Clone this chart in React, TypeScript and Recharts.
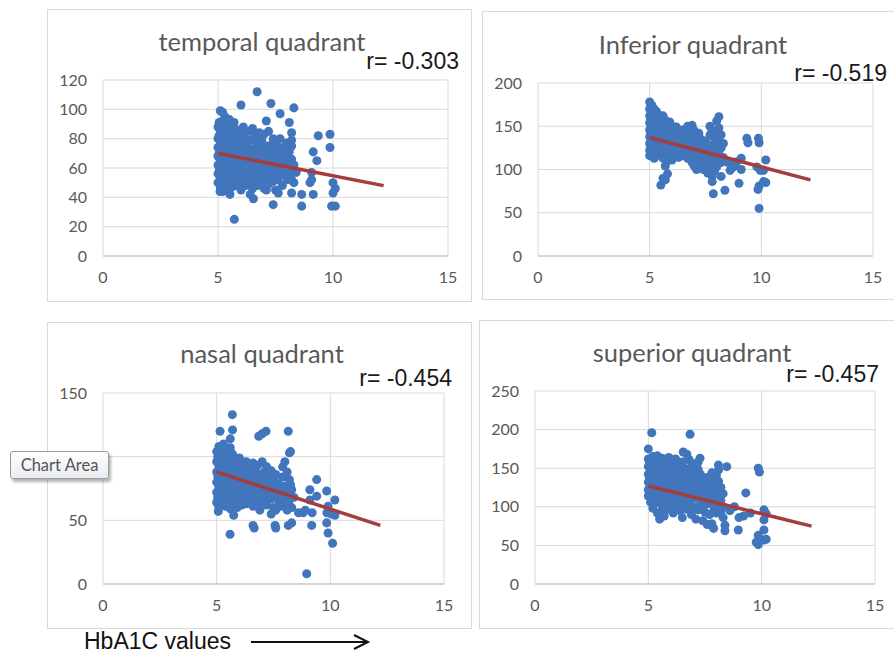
import React from 'react'
import {
  ScatterChart, Scatter, XAxis, YAxis, ZAxis, CartesianGrid,
} from 'recharts'

type Pt = [number, number]

// HbA1C vs thickness (cores are dense, outliers listed after)
const temporalPoints: Pt[] = [
  [5.0, 88], [5.0, 80], [5.0, 74], [5.0, 68], [5.0, 62], [5.0, 56], [5.0, 50],
  [5.1, 84], [5.1, 77], [5.1, 71], [5.1, 65], [5.1, 59], [5.1, 53], [5.1, 47],
  [5.2, 92], [5.2, 86], [5.2, 79], [5.2, 73], [5.2, 67], [5.2, 61], [5.2, 55], [5.2, 49], [5.2, 44],
  [5.3, 95], [5.3, 82], [5.3, 76], [5.3, 70], [5.3, 63], [5.3, 57], [5.3, 51],
  [5.4, 89], [5.4, 84], [5.4, 66], [5.4, 60], [5.4, 54], [5.4, 46],
  [5.5, 93], [5.5, 80], [5.5, 73], [5.5, 68], [5.5, 58], [5.5, 50],
  [5.6, 87], [5.6, 77], [5.6, 63], [5.6, 55], [5.6, 47],
  [5.7, 91], [5.7, 83], [5.7, 70], [5.7, 60], [5.7, 52],
  [5.8, 86], [5.8, 75], [5.8, 66], [5.8, 57], [5.8, 48],
  [5.9, 80], [5.9, 71], [5.9, 62], [5.9, 53],
  [6.0, 84], [6.0, 76], [6.0, 67], [6.0, 58], [6.0, 50], [6.0, 45],
  [6.1, 88], [6.1, 72], [6.1, 63], [6.1, 54], [6.2, 80], [6.2, 68], [6.2, 59], [6.2, 48],
  [6.3, 85], [6.3, 75], [6.3, 64], [6.3, 55], [6.4, 79], [6.4, 70], [6.4, 60], [6.4, 51],
  [6.5, 87], [6.5, 73], [6.5, 66], [6.5, 56], [6.5, 46],
  [6.6, 82], [6.6, 62], [6.6, 52], [6.7, 77], [6.7, 69], [6.7, 58], [6.7, 48],
  [6.8, 84], [6.8, 72], [6.8, 64], [6.8, 54], [6.9, 79], [6.9, 60], [6.9, 50],
  [7.0, 83], [7.0, 68], [7.0, 57], [7.0, 46], [7.1, 75], [7.1, 63], [7.1, 53],
  [7.2, 85], [7.2, 70], [7.2, 59], [7.2, 49], [7.3, 66], [7.3, 55],
  [7.4, 80], [7.4, 72], [7.4, 61], [7.4, 51], [7.5, 76], [7.5, 64], [7.5, 45],
  [7.6, 70], [7.6, 58], [7.6, 52], [7.7, 80], [7.7, 66], [7.7, 55],
  [7.8, 74], [7.8, 62], [7.8, 48], [7.9, 69], [7.9, 57], [8.0, 77], [8.0, 64], [8.0, 52],
  [8.1, 71], [8.1, 60], [8.2, 75], [8.2, 66], [8.2, 56], [8.3, 62], [8.3, 50], [8.4, 57],
  [5.05, 91], [5.05, 82], [5.05, 70], [5.05, 58], [5.15, 88], [5.15, 75], [5.15, 63], [5.15, 51],
  [5.25, 83], [5.25, 68], [5.25, 53], [5.35, 87], [5.35, 72], [5.35, 60], [5.45, 78], [5.45, 63],
  [5.45, 52], [5.55, 85], [5.55, 61], [5.65, 73], [5.65, 67], [5.75, 78], [5.75, 56], [5.85, 70],
  [5.85, 61], [5.95, 75], [5.95, 57], [6.05, 63], [6.15, 79], [6.15, 67], [6.25, 74], [6.25, 63],
  [6.35, 69], [6.45, 65], [6.55, 80], [6.55, 61], [6.65, 71], [6.75, 63], [6.85, 77], [6.95, 68],
  [7.05, 62], [7.15, 70], [7.25, 64], [7.35, 76], [7.45, 57], [7.55, 68], [7.65, 62], [7.85, 67],
  [7.95, 73], [8.05, 58],
  // outliers
  [6.7, 112], [6.0, 103], [7.3, 104], [8.3, 101], [7.7, 97], [5.2, 98], [5.1, 99],
  [8.1, 91], [7.1, 92], [9.36, 82], [9.87, 83], [9.87, 74], [9.14, 71], [9.3, 65],
  [8.2, 84], [8.2, 79], [10.0, 50], [10.1, 46], [10.0, 43], [9.94, 34], [10.1, 34],
  [8.64, 34], [9.14, 42], [8.64, 42], [9.07, 52], [9.07, 57], [9.0, 50],
  [7.4, 35], [5.71, 25], [5.09, 44], [5.52, 42], [6.54, 39], [6.4, 42],
  [7.62, 43], [8.2, 43], [8.2, 52], [8.2, 58], [7.1, 45],
]

const inferiorPoints: Pt[] = [
  [5.0, 178], [5.0, 170], [5.0, 162], [5.0, 154], [5.0, 146], [5.0, 138], [5.0, 130], [5.0, 122], [5.0, 116],
  [5.1, 174], [5.1, 166], [5.1, 158], [5.1, 150], [5.1, 142], [5.1, 134], [5.1, 126], [5.1, 119],
  [5.2, 170], [5.2, 161], [5.2, 153], [5.2, 145], [5.2, 137], [5.2, 129], [5.2, 121], [5.2, 113],
  [5.3, 167], [5.3, 157], [5.3, 148], [5.3, 139], [5.3, 131], [5.3, 123],
  [5.4, 163], [5.4, 152], [5.4, 143], [5.4, 134], [5.4, 126], [5.4, 117],
  [5.5, 159], [5.5, 148], [5.5, 138], [5.5, 129], [5.5, 120],
  [5.6, 162], [5.6, 153], [5.6, 143], [5.6, 133], [5.6, 124], [5.6, 113],
  [5.7, 157], [5.7, 147], [5.7, 137], [5.7, 127], [5.7, 118], [5.7, 104],
  [5.8, 151], [5.8, 141], [5.8, 131], [5.8, 121], [5.8, 110],
  [5.9, 155], [5.9, 145], [5.9, 135], [5.9, 125],
  [6.0, 150], [6.0, 139], [6.0, 129], [6.0, 119], [6.0, 111],
  [6.1, 146], [6.1, 136], [6.1, 126], [6.1, 116],
  [6.2, 149], [6.2, 140], [6.2, 130], [6.2, 120], [6.3, 145], [6.3, 134], [6.3, 124], [6.3, 114],
  [6.4, 141], [6.4, 131], [6.4, 121], [6.5, 146], [6.5, 136], [6.5, 126], [6.5, 116],
  [6.6, 142], [6.6, 130], [6.6, 119], [6.7, 150], [6.7, 138], [6.7, 125], [6.7, 113],
  [6.8, 146], [6.8, 133], [6.8, 121], [6.9, 151], [6.9, 140], [6.9, 128], [6.9, 108],
  [7.0, 145], [7.0, 134], [7.0, 118], [7.0, 104], [7.1, 138], [7.1, 126], [7.1, 112],
  [7.2, 142], [7.2, 130], [7.2, 117], [7.2, 102], [7.3, 135], [7.3, 122], [7.3, 109],
  [7.4, 128], [7.4, 114], [7.4, 100], [7.5, 133], [7.5, 119], [7.5, 106],
  [7.6, 124], [7.6, 111], [7.6, 96], [7.7, 150], [7.7, 140], [7.7, 116], [7.7, 103],
  [7.8, 145], [7.8, 128], [7.8, 108], [7.8, 92], [7.9, 136], [7.9, 121], [7.9, 98],
  [8.0, 156], [8.0, 142], [8.0, 126], [8.0, 112], [8.0, 103],
  [8.1, 161], [8.1, 148], [8.1, 133], [8.1, 118], [8.2, 140], [8.2, 125], [8.2, 108],
  [8.3, 130], [8.3, 114],
  [5.05, 172], [5.05, 158], [5.05, 143], [5.05, 127], [5.15, 165], [5.15, 147], [5.15, 131],
  [5.25, 156], [5.25, 141], [5.25, 126], [5.35, 152], [5.35, 135], [5.45, 147], [5.45, 130],
  [5.55, 143], [5.55, 125], [5.65, 148], [5.65, 129], [5.75, 142], [5.75, 123], [5.85, 137],
  [5.95, 140], [5.95, 120], [6.05, 134], [6.15, 141], [6.15, 122], [6.25, 135], [6.35, 129],
  [6.45, 137], [6.55, 121], [6.65, 135], [6.75, 130], [6.85, 126], [6.95, 134], [7.05, 129],
  [7.15, 120], [7.25, 125], [7.35, 117], [7.45, 122], [7.55, 113], [7.65, 118], [7.85, 115],
  [8.05, 120], [8.15, 128],
  // outliers
  [5.5, 82], [5.6, 90], [5.8, 95], [5.7, 88], [7.85, 72], [8.37, 76], [7.8, 86], [8.2, 92],
  [8.6, 99], [8.5, 108], [8.8, 104], [8.9, 109], [9.0, 84], [9.1, 100], [9.1, 113],
  [9.35, 136], [9.4, 131], [9.87, 136], [9.9, 131], [9.8, 103], [9.95, 99],
  [10.2, 111], [10.1, 99], [10.1, 86], [10.2, 85], [9.9, 81], [9.85, 77], [9.9, 55],
  [8.7, 102], [7.1, 100],
]

const nasalPoints: Pt[] = [
  [5.0, 104], [5.0, 96], [5.0, 88], [5.0, 80], [5.0, 72], [5.0, 64],
  [5.1, 108], [5.1, 100], [5.1, 92], [5.1, 84], [5.1, 76], [5.1, 68], [5.1, 60],
  [5.2, 103], [5.2, 95], [5.2, 87], [5.2, 79], [5.2, 71], [5.2, 63],
  [5.3, 110], [5.3, 98], [5.3, 90], [5.3, 82], [5.3, 74], [5.3, 66],
  [5.4, 105], [5.4, 93], [5.4, 85], [5.4, 77], [5.4, 69], [5.4, 61],
  [5.5, 100], [5.5, 88], [5.5, 80], [5.5, 72], [5.5, 64],
  [5.6, 107], [5.6, 95], [5.6, 83], [5.6, 75], [5.6, 67], [5.6, 59],
  [5.7, 102], [5.7, 90], [5.7, 78], [5.7, 70], [5.7, 62],
  [5.8, 97], [5.8, 85], [5.8, 73], [5.8, 65], [5.9, 92], [5.9, 81], [5.9, 68], [5.9, 60],
  [6.0, 99], [6.0, 87], [6.0, 76], [6.0, 64], [6.1, 94], [6.1, 83], [6.1, 71], [6.1, 62],
  [6.2, 90], [6.2, 79], [6.2, 67], [6.3, 96], [6.3, 85], [6.3, 74], [6.3, 63],
  [6.4, 91], [6.4, 80], [6.4, 69], [6.5, 87], [6.5, 76], [6.5, 65],
  [6.6, 95], [6.6, 83], [6.6, 72], [6.6, 61], [6.7, 89], [6.7, 78], [6.7, 67],
  [6.8, 93], [6.8, 81], [6.8, 70], [6.9, 86], [6.9, 75], [6.9, 64],
  [7.0, 96], [7.0, 82], [7.0, 71], [7.1, 88], [7.1, 77], [7.1, 66], [7.2, 92], [7.2, 80], [7.2, 62],
  [7.3, 85], [7.3, 73], [7.4, 89], [7.4, 78], [7.4, 67], [7.5, 82], [7.5, 70], [7.5, 60],
  [7.6, 86], [7.6, 75], [7.7, 79], [7.7, 66], [7.8, 72], [7.8, 61],
  [7.9, 84], [7.9, 68], [8.0, 77], [8.0, 63], [8.1, 88], [8.1, 71], [8.1, 58],
  [8.2, 82], [8.2, 66], [8.3, 74], [8.3, 60], [8.4, 68],
  [5.05, 100], [5.05, 84], [5.05, 68], [5.15, 96], [5.15, 80], [5.15, 72], [5.25, 99], [5.25, 83],
  [5.25, 67], [5.35, 94], [5.35, 78], [5.45, 89], [5.45, 73], [5.55, 92], [5.55, 76], [5.55, 68],
  [5.65, 86], [5.65, 71], [5.75, 95], [5.75, 82], [5.75, 66], [5.85, 89], [5.85, 77], [5.95, 85],
  [5.95, 72], [6.05, 81], [6.05, 68], [6.15, 88], [6.15, 76], [6.25, 84], [6.25, 72], [6.35, 79],
  [6.45, 84], [6.45, 74], [6.55, 70], [6.65, 80], [6.75, 74], [6.85, 86], [6.95, 79], [7.05, 75],
  [7.15, 83], [7.25, 69], [7.35, 79], [7.45, 72], [7.55, 77], [7.65, 70], [7.85, 76], [8.05, 70],
  // outliers
  [5.69, 133], [5.15, 120], [5.7, 121], [5.6, 114], [6.85, 116], [7.0, 118], [7.17, 120],
  [8.15, 120], [8.2, 103], [8.25, 104], [8.0, 96], [7.9, 92], [9.4, 82], [9.1, 74],
  [9.84, 73], [9.4, 69], [10.2, 66], [9.9, 61], [9.1, 66], [8.9, 58], [8.25, 78], [8.1, 76],
  [9.85, 56], [10.05, 55], [10.2, 54], [9.2, 56], [8.6, 56], [8.8, 56], [8.3, 48], [8.15, 46],
  [9.18, 46], [9.84, 48], [9.9, 40], [10.1, 32], [7.57, 46], [7.6, 44], [6.6, 46], [6.65, 44],
  [5.59, 39], [5.07, 57], [5.75, 54], [8.96, 8], [7.6, 58], [7.4, 55], [6.9, 58],
]

const superiorPoints: Pt[] = [
  [5.0, 162], [5.0, 152], [5.0, 142], [5.0, 132], [5.0, 122], [5.0, 114],
  [5.1, 158], [5.1, 147], [5.1, 137], [5.1, 127], [5.1, 117], [5.1, 106],
  [5.2, 165], [5.2, 153], [5.2, 143], [5.2, 133], [5.2, 123], [5.2, 112], [5.2, 98],
  [5.3, 160], [5.3, 148], [5.3, 138], [5.3, 128], [5.3, 118], [5.3, 108],
  [5.4, 166], [5.4, 155], [5.4, 144], [5.4, 134], [5.4, 124], [5.4, 113], [5.4, 92],
  [5.5, 150], [5.5, 139], [5.5, 129], [5.5, 119], [5.5, 84],
  [5.6, 163], [5.6, 145], [5.6, 135], [5.6, 125], [5.6, 110], [5.6, 95],
  [5.7, 157], [5.7, 140], [5.7, 130], [5.7, 118], [5.7, 102], [5.7, 88],
  [5.8, 150], [5.8, 136], [5.8, 124], [5.8, 112],
  [5.9, 164], [5.9, 144], [5.9, 131], [5.9, 119], [5.9, 97],
  [6.0, 158], [6.0, 139], [6.0, 127], [6.0, 114], [6.0, 103],
  [6.1, 150], [6.1, 133], [6.1, 121], [6.1, 92],
  [6.2, 162], [6.2, 144], [6.2, 128], [6.2, 115], [6.2, 100],
  [6.3, 154], [6.3, 137], [6.3, 123], [6.3, 108], [6.4, 148], [6.4, 131], [6.4, 118], [6.4, 95],
  [6.5, 158], [6.5, 140], [6.5, 125], [6.5, 112], [6.5, 86],
  [6.6, 150], [6.6, 134], [6.6, 120], [6.6, 104],
  [6.7, 168], [6.7, 143], [6.7, 128], [6.7, 115], [6.7, 97],
  [6.8, 161], [6.8, 137], [6.8, 122], [6.8, 108], [6.9, 152], [6.9, 131], [6.9, 117], [6.9, 90],
  [7.0, 146], [7.0, 125], [7.0, 111], [7.0, 100], [7.1, 156], [7.1, 138], [7.1, 120], [7.1, 84],
  [7.2, 148], [7.2, 130], [7.2, 114], [7.2, 96], [7.3, 142], [7.3, 124], [7.3, 107],
  [7.4, 135], [7.4, 118], [7.4, 100], [7.4, 82], [7.5, 128], [7.5, 112], [7.5, 93],
  [7.6, 138], [7.6, 121], [7.6, 104], [7.7, 131], [7.7, 114], [7.7, 90],
  [7.8, 144], [7.8, 124], [7.8, 107], [7.8, 78], [7.9, 135], [7.9, 117], [7.9, 98],
  [8.0, 141], [8.0, 127], [8.0, 110], [8.0, 92], [8.1, 133], [8.1, 119], [8.1, 102],
  [8.2, 125], [8.2, 108], [8.2, 94], [8.3, 117], [8.3, 100],
  [5.05, 157], [5.05, 137], [5.05, 118], [5.15, 152], [5.15, 132], [5.15, 112], [5.25, 148],
  [5.25, 128], [5.25, 104], [5.35, 153], [5.35, 133], [5.35, 113], [5.45, 140], [5.45, 120],
  [5.55, 156], [5.55, 132], [5.55, 104], [5.65, 140], [5.65, 117], [5.75, 148], [5.75, 124],
  [5.85, 143], [5.85, 118], [5.95, 137], [5.95, 108], [6.05, 146], [6.05, 120], [6.15, 139],
  [6.15, 110], [6.25, 134], [6.35, 145], [6.35, 116], [6.45, 125], [6.55, 132], [6.55, 104],
  [6.65, 141], [6.75, 122], [6.85, 129], [6.95, 124], [7.05, 135], [7.15, 128], [7.25, 121],
  [7.35, 113], [7.45, 126], [7.55, 120], [7.65, 112], [7.75, 125], [7.85, 116], [8.05, 118],
  [8.15, 111],
  // outliers
  [5.15, 196], [6.84, 194], [5.0, 175], [6.54, 171], [7.28, 163], [7.2, 158], [8.09, 154],
  [8.1, 148], [8.46, 152], [9.3, 118], [9.85, 150], [9.9, 145], [8.38, 76], [8.97, 70],
  [8.38, 69], [7.88, 72], [7.73, 77], [7.6, 77], [8.3, 86], [9.2, 88], [9.0, 86],
  [10.1, 96], [10.2, 91], [10.1, 83], [10.1, 70], [9.85, 63], [10.1, 57], [10.2, 58],
  [9.85, 51], [9.76, 54], [8.6, 95], [8.8, 100], [9.5, 92],
]

// linear trendline end points [x, y]
const temporalTrend: Pt[] = [[5, 70], [12.2, 48]]
const inferiorTrend: Pt[] = [[5, 137], [12.2, 88]]
const nasalTrend: Pt[] = [[5, 88], [12.2, 46]]
const superiorTrend: Pt[] = [[5, 127], [12.2, 75]]

const xTicks = [0, 5, 10, 15]
const temporalTicks = [0, 20, 40, 60, 80, 100, 120]
const inferiorTicks = [0, 50, 100, 150, 200]
const nasalTicks = [0, 50, 100, 150]
const superiorTicks = [0, 50, 100, 150, 200, 250]

const DOT = '#4276bc'
const TREND = '#a33e3d'
const GRID = '#d9d9d9'
const TICK = { fontSize: 16, fill: '#595959', fontFamily: 'Lato, sans-serif' }

type PanelProps = {
  title: string
  r: string
  points: Pt[]
  trend: Pt[]
  yTicks: number[]
  hiddenTick?: number
  box: { x: number; y: number; w: number; h: number }
  plot: { l: number; t: number; r: number; b: number }
  titleAt: [number, number]
  rAt: [number, number]
}

const Y_W = 60
const X_H = 40

function Panel({ title, r, points, trend, yTicks, hiddenTick, box, plot, titleAt, rAt }: PanelProps) {
  const data = points.map(([x, y]) => ({ x, y }))
  const trendData = trend.map(([x, y]) => ({ x, y }))
  const w = plot.r - plot.l + Y_W + 10
  const h = plot.b - plot.t + 10 + X_H
  return (
    <>
      <div style={{
        position: 'absolute', left: box.x, top: box.y, width: box.w, height: box.h,
        border: '1px solid #d9d9d9', boxSizing: 'border-box', background: '#fff',
      }} />
      <div style={{ position: 'absolute', left: plot.l - Y_W, top: plot.t - 10 }}>
        <ScatterChart width={w} height={h} margin={{ top: 10, right: 10, left: 0, bottom: 0 }}>
          <CartesianGrid stroke={GRID} />
          <XAxis
            type="number" dataKey="x" domain={[0, 15]} ticks={xTicks} height={X_H}
            tick={TICK} tickLine={false} tickMargin={10} stroke="#bfbfbf"
          />
          <YAxis
            type="number" dataKey="y" domain={[yTicks[0], yTicks[yTicks.length - 1]]}
            ticks={yTicks} width={Y_W} tick={TICK} tickLine={false} axisLine={false} tickMargin={10}
            tickFormatter={(v: number) => (v === hiddenTick ? '' : String(v))}
          />
          <ZAxis range={[80, 80]} />
          <Scatter data={data} fill={DOT} isAnimationActive={false} />
          <Scatter
            data={trendData} line={{ stroke: TREND, strokeWidth: 3.5 }}
            shape={() => <g />} isAnimationActive={false}
          />
        </ScatterChart>
      </div>
      <div style={{
        position: 'absolute', left: titleAt[0], top: titleAt[1], transform: 'translate(-50%, -50%)',
        whiteSpace: 'nowrap', fontFamily: 'Lato, sans-serif', fontSize: 25.5, color: '#595959',
      }}>{title}</div>
      <div style={{
        position: 'absolute', left: rAt[0], top: rAt[1], transform: 'translate(-100%, -50%)',
        whiteSpace: 'nowrap', fontFamily: '"Liberation Sans", Arial, sans-serif', fontSize: 23, color: '#1a1a1a',
      }}>{r}</div>
    </>
  )
}

export default function App() {
  return (
    <div style={{ position: 'absolute', left: 0, top: 0, width: 894, height: 652, background: '#fff', overflow: 'hidden' }}>
      <Panel
        title="temporal quadrant" r="r= -0.303" points={temporalPoints} trend={temporalTrend}
        yTicks={temporalTicks}
        box={{ x: 47, y: 9, w: 425, h: 293 }}
        plot={{ l: 103, t: 80, r: 448, b: 256 }}
        titleAt={[262, 41]} rAt={[459, 61]}
      />
      <Panel
        title="Inferior quadrant" r="r= -0.519" points={inferiorPoints} trend={inferiorTrend}
        yTicks={inferiorTicks}
        box={{ x: 482, y: 11, w: 420, h: 289 }}
        plot={{ l: 538, t: 83, r: 873, b: 256 }}
        titleAt={[693, 44]} rAt={[887, 73]}
      />
      <Panel
        title="nasal quadrant" r="r= -0.454" points={nasalPoints} trend={nasalTrend}
        yTicks={nasalTicks} hiddenTick={100}
        box={{ x: 47, y: 322, w: 425, h: 307 }}
        plot={{ l: 103, t: 393, r: 444, b: 584 }}
        titleAt={[262, 353]} rAt={[452, 378]}
      />
      <Panel
        title="superior quadrant" r="r= -0.457" points={superiorPoints} trend={superiorTrend}
        yTicks={superiorTicks}
        box={{ x: 479, y: 320, w: 420, h: 309 }}
        plot={{ l: 535, t: 391, r: 875, b: 584 }}
        titleAt={[692, 352]} rAt={[879, 374]}
      />

      {/* Excel hover tag, it hides the nasal "100" label */}
      <div style={{
        position: 'absolute', left: 10, top: 451, width: 99, height: 28, boxSizing: 'border-box',
        border: '1px solid #9a9a9a', borderRadius: 3, background: 'linear-gradient(#ffffff, #e9ecf2)',
        boxShadow: '2px 3px 3px rgba(0,0,0,0.3)', fontFamily: 'Lato, sans-serif', fontSize: 16.5,
        color: '#555', display: 'flex', alignItems: 'center', justifyContent: 'center',
      }}>Chart Area</div>

      <div style={{
        position: 'absolute', left: 84, top: 641, transform: 'translateY(-50%)', whiteSpace: 'nowrap',
        fontFamily: '"Liberation Sans", Arial, sans-serif', fontSize: 23, color: '#111',
      }}>HbA1C values</div>
      <svg style={{ position: 'absolute', left: 0, top: 0 }} width={894} height={652}>
        <line x1={251} y1={642} x2={367} y2={642} stroke="#111" strokeWidth={2} />
        <polyline points="354,635 368,642 354,649" fill="none" stroke="#111" strokeWidth={2} />
      </svg>
    </div>
  )
}
